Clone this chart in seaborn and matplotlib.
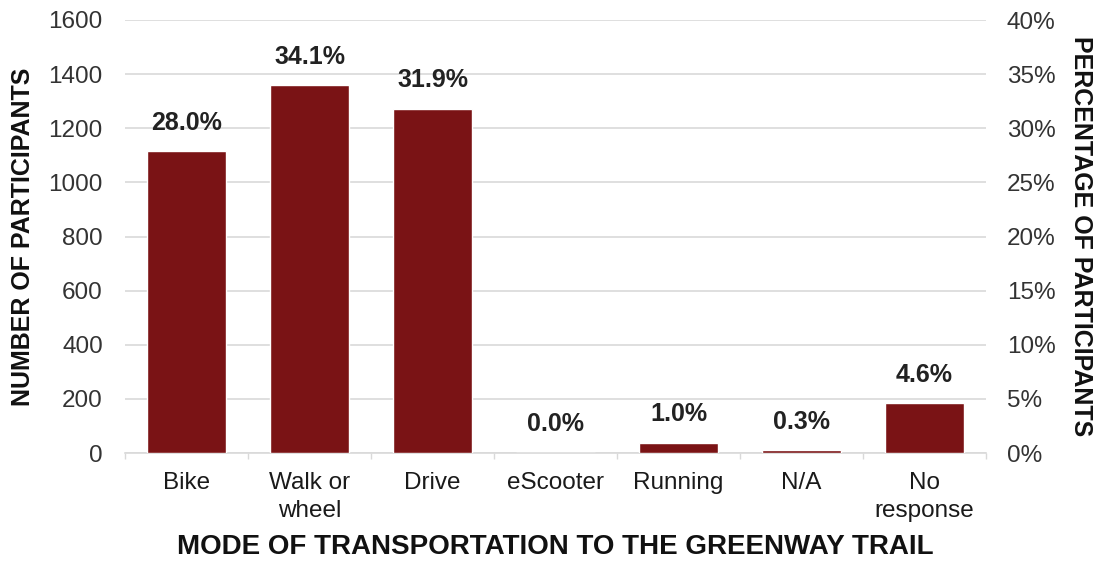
import numpy as np
import pandas as pd
import matplotlib.pyplot as plt
import seaborn as sns

modes = ["Bike", "Walk or\nwheel", "Drive", "eScooter", "Running", "N/A", "No\nresponse"]
participants = [1115, 1358, 1271, 0, 38, 10, 183]
percent_labels = [28.0, 34.1, 31.9, 0.0, 1.0, 0.3, 4.6]

sns.set_theme(style="white")
plt.rcParams["font.family"] = ["Liberation Sans", "DejaVu Sans"]

df = pd.DataFrame({"mode": modes, "count": participants, "pct": percent_labels})

fig = plt.figure(figsize=(11.01, 5.67), dpi=100)
ax = fig.add_axes([125 / 1101, 1 - 453 / 567, (986 - 125) / 1101, (453 - 20) / 567])

sns.barplot(data=df, x="mode", y="count", color="#7a1315", width=0.65,
            saturation=1, ax=ax, zorder=3)

ax.set_ylim(0, 1600)
ax.set_yticks(range(0, 1601, 200))
ax.yaxis.grid(True, color="#d9d9d9", linewidth=1.2, zorder=0)
ax.set_axisbelow(True)
for s in ax.spines.values():
    s.set_visible(False)
ax.spines["bottom"].set_visible(True)
ax.spines["bottom"].set_color("#d9d9d9")
ax.spines["bottom"].set_linewidth(1.2)
ax.set_xlim(-0.5, len(modes) - 0.5)
ax.set_xticks(np.arange(-0.5, len(modes), 1), minor=True)
ax.tick_params(axis="x", which="minor", length=4, color="#d9d9d9", bottom=True)
ax.tick_params(axis="x", which="major", length=0, labelsize=17.5, colors="#1a1a1a", pad=14)
ax.tick_params(axis="y", length=0, labelsize=17.5, colors="#333333", pad=16)
for lbl in ax.get_xticklabels():
    lbl.set_linespacing(1.3)

for i, row in df.iterrows():
    ax.annotate(f"{row['pct']:.1f}%", (i, row["count"]), xytext=(0, 12),
                textcoords="offset points", ha="center", va="bottom",
                fontsize=18, fontweight="bold", color="#222222")

ax.set_xlabel("MODE OF TRANSPORTATION TO THE GREENWAY TRAIL", fontsize=20,
              fontweight="bold", color="#111111", labelpad=9)
ax.set_ylabel("NUMBER OF PARTICIPANTS", fontsize=18, fontweight="bold",
              color="#111111", labelpad=10)

ax2 = ax.twinx()
ax2.set_ylim(0, 40)
ax2.set_yticks(range(0, 41, 5))
ax2.set_yticklabels([f"{v}%" for v in range(0, 41, 5)])
for s in ax2.spines.values():
    s.set_visible(False)
ax2.tick_params(axis="y", length=0, labelsize=17.5, colors="#333333", pad=15)
ax2.set_ylabel("PERCENTAGE OF PARTICIPANTS", fontsize=18, fontweight="bold",
               color="#111111", rotation=270, va="bottom", labelpad=10)

fig.savefig("out.png", dpi=100)
